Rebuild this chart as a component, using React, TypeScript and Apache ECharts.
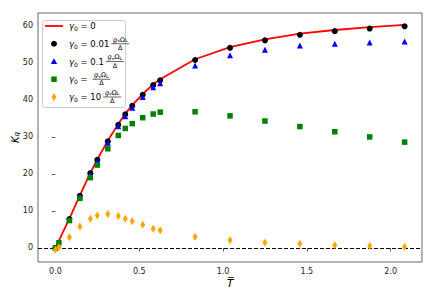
import React, { useEffect, useRef } from 'react';
import * as echarts from 'echarts';

// reduced time values
const T_MAIN = [0, 0.0833, 0.1458, 0.2083, 0.25, 0.3125, 0.375, 0.4167, 0.4583, 0.5208, 0.5833, 0.625, 0.8333, 1.0417, 1.25, 1.4583, 1.6667, 1.875, 2.0833];
const T_FULL = [0, 0.0208, 0.0833, 0.1458, 0.2083, 0.25, 0.3125, 0.375, 0.4167, 0.4583, 0.5208, 0.5833, 0.625, 0.8333, 1.0417, 1.25, 1.4583, 1.6667, 1.875, 2.0833];

// K_q values
const K_G0 = [0, 7.9, 14.2, 20.3, 23.9, 29.0, 33.5, 36.3, 38.6, 41.6, 44.2, 45.6, 51.0, 54.3, 56.4, 57.9, 58.9, 59.7, 60.3];
const K_G001 = [0, 7.8, 14.1, 20.2, 23.8, 28.8, 33.3, 36.1, 38.4, 41.4, 44.0, 45.3, 50.8, 54.1, 56.1, 57.6, 58.6, 59.3, 59.9];
const K_G01 = [0, 7.6, 13.9, 19.9, 23.4, 28.4, 32.9, 35.6, 37.9, 40.8, 43.4, 44.5, 49.3, 52.1, 53.6, 54.7, 55.2, 55.5, 55.8];
const K_G1 = [0, 1.4, 7.4, 13.4, 19.0, 22.4, 26.8, 30.4, 32.3, 33.6, 35.2, 36.2, 36.7, 36.8, 35.7, 34.3, 32.8, 31.4, 30.0, 28.6];
const K_G10 = [-0.5, 0.2, 2.9, 5.8, 7.9, 8.8, 9.2, 8.6, 7.9, 7.2, 6.3, 5.2, 4.8, 3.05, 2.1, 1.45, 1.1, 0.7, 0.55, 0.35];

const X_TICKS = [0, 0.5, 1, 1.5, 2];
const Y_TICKS = [0, 10, 20, 30, 40, 50, 60];

// legend: coefficient of g_v Ω_L / Δ for each series
const COEFS = ['0', '0.01', '0.1', '', '10'];
const HAS_FRAC = [false, true, true, true, true];
const COLORS = ['#ff0000', '#000000', '#0000ff', '#008000', '#ffa500'];

const FONT = '"DejaVu Sans", sans-serif';
const ZIP = (xs: number[], ys: number[]) => xs.map((x, i) => [x, ys[i]]);

function measure(font: string, text: string): number {
  const c = document.createElement('canvas').getContext('2d');
  if (!c) return text.length * 5;
  c.font = font;
  return c.measureText(text).width;
}

export default function App() {
  const ref = useRef<HTMLDivElement>(null);
  useEffect(() => {
    document.body.style.margin = '0';
    if (!ref.current) return;
    const chart = echarts.init(ref.current, undefined, { renderer: 'svg' });

    const LG_FS = 8.5;
    const SUB_FS = 6;
    const FRAC_W = 20;
    const boxX = 42;
    const boxY = 20;
    const boxW = 83;
    const boxH = 87;
    const rowY = [26, 43.75, 61.5, 79.25, 97];
    const iconX = 54;
    const textX = 69;

    const graphics: any[] = [];
    graphics.push({
      type: 'rect',
      z: 100,
      shape: { x: boxX + 0.5, y: boxY + 0.5, width: boxW, height: boxH, r: 3 },
      style: { fill: 'rgba(255,255,255,0.85)', stroke: '#cccccc', lineWidth: 1 },
    });
    // legend icons
    graphics.push({
      type: 'line', z: 101,
      shape: { x1: 45, y1: rowY[0], x2: 63, y2: rowY[0] },
      style: { stroke: COLORS[0], lineWidth: 1.8 },
    });
    graphics.push({
      type: 'circle', z: 101,
      shape: { cx: iconX, cy: rowY[1], r: 3 },
      style: { fill: COLORS[1] },
    });
    graphics.push({
      type: 'polygon', z: 101,
      shape: { points: [[iconX, rowY[2] - 3.3], [iconX + 3.2, rowY[2] + 2.6], [iconX - 3.2, rowY[2] + 2.6]] },
      style: { fill: COLORS[2] },
    });
    graphics.push({
      type: 'rect', z: 101,
      shape: { x: iconX - 2.75, y: rowY[3] - 2.75, width: 5.5, height: 5.5 },
      style: { fill: COLORS[3] },
    });
    graphics.push({
      type: 'polygon', z: 101,
      shape: { points: [[iconX, rowY[4] - 4], [iconX + 2.4, rowY[4]], [iconX, rowY[4] + 4], [iconX - 2.4, rowY[4]]] },
      style: { fill: COLORS[4] },
    });

    COEFS.forEach((coef, i) => {
      const cy = rowY[i];
      graphics.push({
        type: 'text',
        z: 101,
        style: {
          text: `{g|γ}{s|0}{t| = ${coef}}`,
          x: textX,
          y: cy,
          align: 'left',
          verticalAlign: 'middle',
          rich: {
            g: { fontStyle: 'italic', fontSize: LG_FS, fontFamily: FONT, fill: '#000', lineHeight: 11 },
            s: { fontSize: SUB_FS, fontFamily: FONT, fill: '#000', verticalAlign: 'bottom', lineHeight: 11 },
            t: { fontSize: LG_FS, fontFamily: FONT, fill: '#000', lineHeight: 11 },
          },
        },
      });
      if (!HAS_FRAC[i]) return;
      const w =
        measure(`italic ${LG_FS}px ${FONT}`, 'γ') +
        measure(`${SUB_FS}px ${FONT}`, '0') +
        measure(`${LG_FS}px ${FONT}`, ` = ${coef}`);
      const cx = textX + w + 1 + FRAC_W / 2;
      graphics.push({
        type: 'group',
        x: cx,
        y: cy,
        z: 101,
        children: [
          {
            type: 'text',
            z: 101,
            style: {
              text: '{i|g}{b|v}{o|Ω}{b|L}',
              x: 0,
              y: -0.6,
              align: 'center',
              verticalAlign: 'bottom',
              rich: {
                i: { fontStyle: 'italic', fontSize: 6.5, fontFamily: FONT, fill: '#000' },
                o: { fontSize: 6.5, fontFamily: FONT, fill: '#000' },
                b: { fontSize: 4.8, fontFamily: FONT, fill: '#000', verticalAlign: 'bottom' },
              },
            },
          },
          {
            type: 'line',
            z: 101,
            shape: { x1: -FRAC_W / 2 + 1, y1: 0, x2: FRAC_W / 2 - 1, y2: 0 },
            style: { stroke: '#000', lineWidth: 0.6 },
          },
          {
            type: 'text',
            z: 101,
            style: {
              text: 'Δ',
              x: 0,
              y: 0.6,
              align: 'center',
              verticalAlign: 'top',
              fontSize: 6.5,
              fontFamily: FONT,
              fill: '#000',
            },
          },
        ],
      });
    });

    const option: any = {
      animation: false,
      grid: {
        left: 38,
        right: 14,
        top: 13,
        bottom: 29,
        show: true,
        borderColor: '#444',
        borderWidth: 0.8,
        backgroundColor: 'transparent',
        containLabel: false,
        outerBoundsMode: 'none',
      },
      xAxis: {
        type: 'value',
        min: -0.104,
        max: 2.187,
        axisLine: { show: false },
        splitLine: { show: false },
        axisTick: { show: true, customValues: X_TICKS, length: 3.5, lineStyle: { color: '#333', width: 0.8 } },
        axisLabel: {
          customValues: X_TICKS,
          formatter: (v: number) => v.toFixed(1),
          fontSize: 8,
          fontFamily: FONT,
          color: '#222',
          margin: 5,
          hideOverlap: false,
        },
        name: '{t|T\u0305}',
        nameLocation: 'middle',
        nameGap: 16,
        nameMoveOverlap: false,
        nameTextStyle: {
          rich: { t: { fontStyle: 'italic', fontSize: 11, fontFamily: FONT, color: '#000' } },
        },
      },
      yAxis: {
        type: 'value',
        min: -3.8,
        max: 63.5,
        axisLine: { show: false },
        splitLine: { show: false },
        axisTick: { show: true, customValues: Y_TICKS, length: 3.5, lineStyle: { color: '#333', width: 0.8 } },
        axisLabel: {
          customValues: Y_TICKS,
          fontSize: 8,
          fontFamily: FONT,
          color: '#222',
          margin: 5,
          hideOverlap: false,
        },
        name: '{k|K}{q|q}',
        nameLocation: 'middle',
        nameRotate: 90,
        nameGap: 18,
        nameMoveOverlap: false,
        nameTextStyle: {
          rich: {
            k: { fontStyle: 'italic', fontSize: 10, fontFamily: FONT, color: '#000' },
            q: { fontStyle: 'italic', fontSize: 7, fontFamily: FONT, color: '#000', verticalAlign: 'bottom' },
          },
        },
      },
      graphic: graphics,
      series: [
        {
          name: 'g0',
          type: 'line',
          data: ZIP(T_MAIN, K_G0),
          symbol: 'none',
          lineStyle: { color: COLORS[0], width: 1.8 },
          itemStyle: { color: COLORS[0] },
          z: 2,
          markLine: {
            silent: true,
            symbol: 'none',
            label: { show: false },
            lineStyle: { color: '#000', type: [4, 2], width: 1.1 },
            data: [{ yAxis: 0 }],
          },
        },
        {
          name: 'g001',
          type: 'scatter',
          data: ZIP(T_MAIN, K_G001),
          symbol: 'circle',
          symbolSize: 6,
          itemStyle: { color: COLORS[1], opacity: 1 },
          z: 3,
        },
        {
          name: 'g01',
          type: 'scatter',
          data: ZIP(T_MAIN, K_G01),
          symbol: 'triangle',
          symbolSize: 6,
          itemStyle: { color: COLORS[2], opacity: 1 },
          z: 4,
        },
        {
          name: 'g1',
          type: 'scatter',
          data: ZIP(T_FULL, K_G1),
          symbol: 'rect',
          symbolSize: 5.5,
          itemStyle: { color: COLORS[3], opacity: 1 },
          z: 5,
        },
        {
          name: 'g10',
          type: 'scatter',
          data: ZIP(T_FULL, K_G10),
          symbol: 'path://M2,0L4,4.5L2,9L0,4.5Z',
          symbolSize: [5, 8],
          itemStyle: { color: COLORS[4], opacity: 1 },
          z: 6,
        },
      ],
    };
    chart.setOption(option);
    return () => chart.dispose();
  }, []);
  return <div ref={ref} style={{ width: 436, height: 291 }} />;
}
